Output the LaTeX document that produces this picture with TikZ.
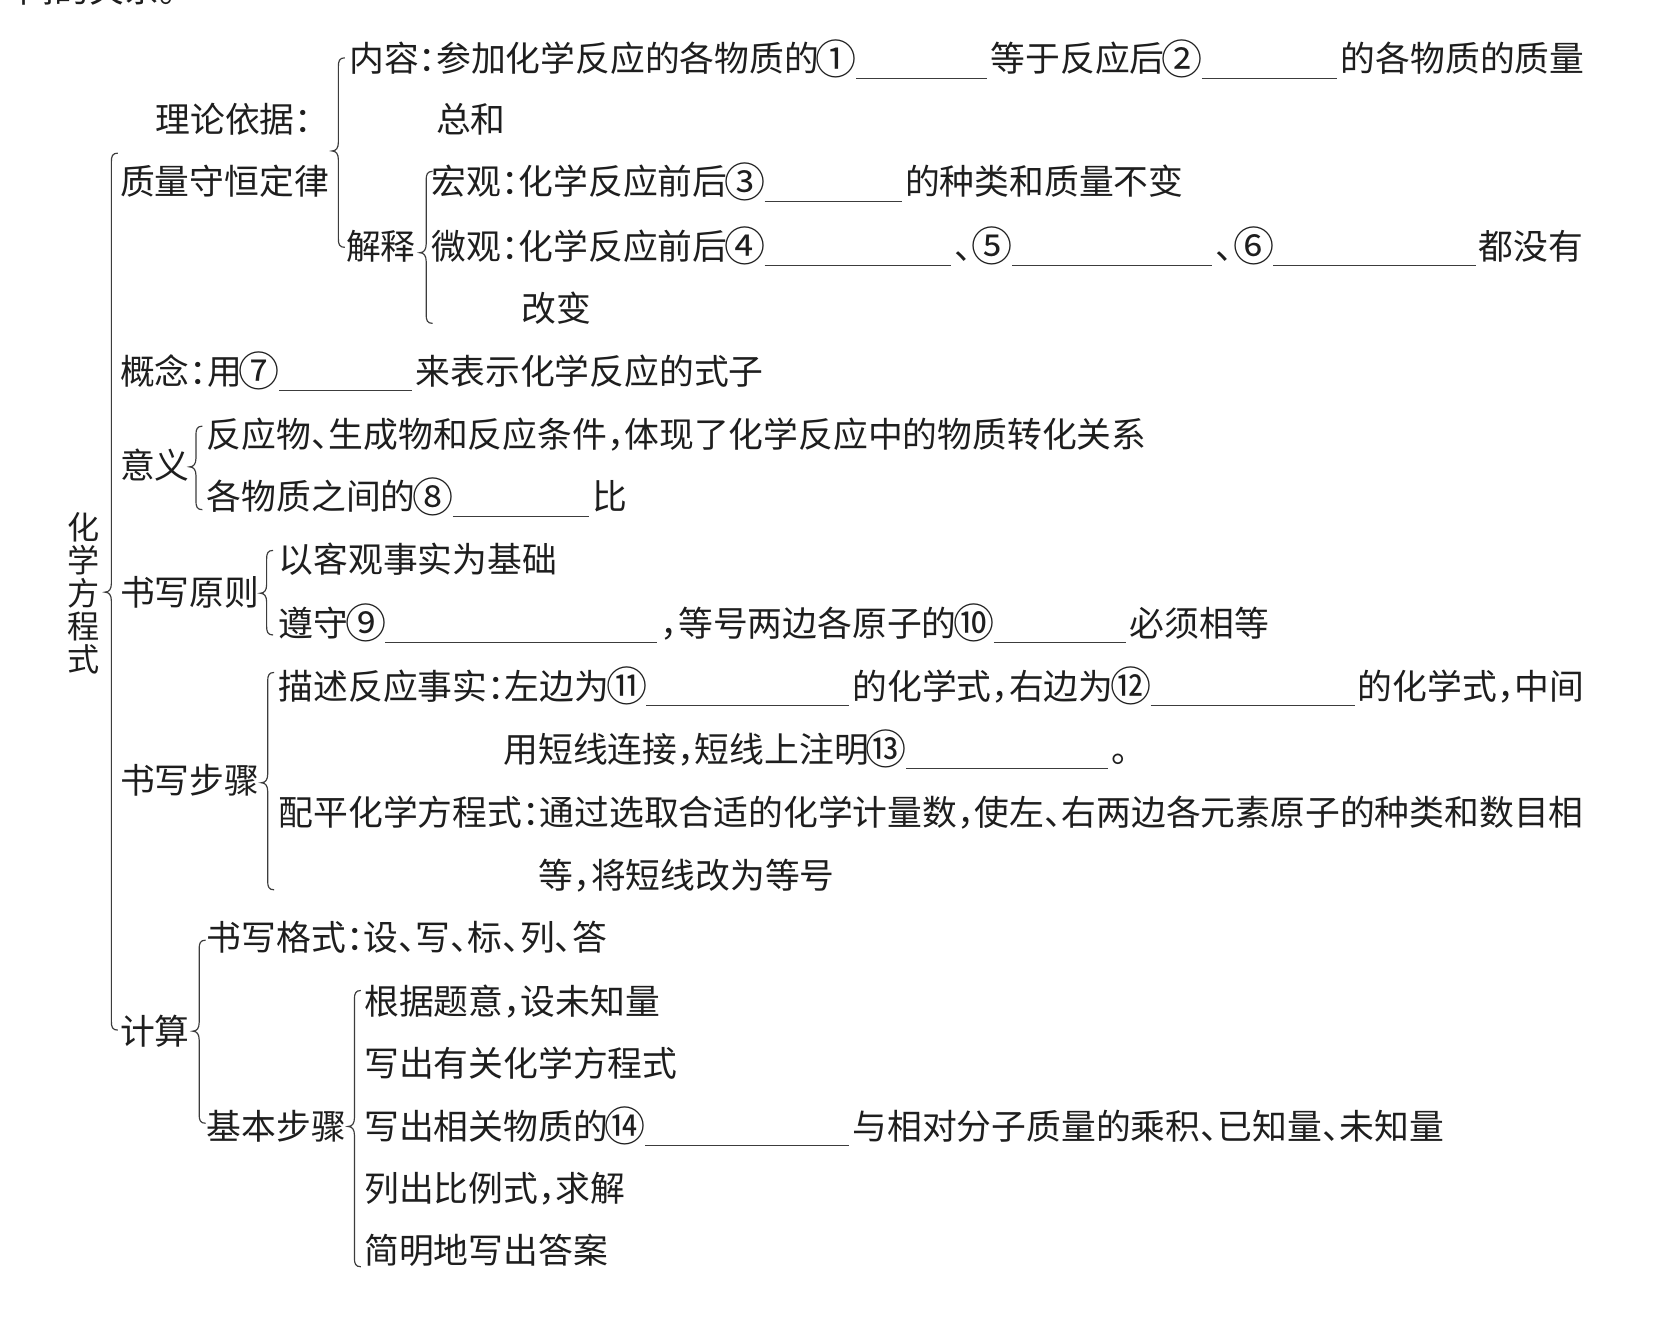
\documentclass[tikz,border=0pt]{standalone}
\usepackage{fontspec}
\setmainfont{Noto Sans CJK SC}[RawFeature=+halt]
\definecolor{ink}{HTML}{1E1E1E}
\definecolor{lin}{HTML}{3C3C3C}
\tikzset{
  txt/.style={anchor=base west, inner sep=0pt, text=ink, font=\fontsize{32.5}{39}\selectfont},
  uline/.style={draw=lin, line width=1pt},
  brc/.style={draw=lin, line width=1.1pt},
}
\newcommand\circn[1]{\makebox[1em]{\raisebox{-2.4pt}{\scalebox{1.18}{#1}}}}
\newcommand\mybrace[4]{\draw[brc] (#1+6,#2) .. controls (#1+1,#2) and (#1,#2+3) .. (#1,#2+8) -- (#1,#3-8) .. controls (#1,#3-3) and (#1-2,#3) .. (#1-6,#3) .. controls (#1-2,#3) and (#1,#3+3) .. (#1,#3+8) -- (#1,#4-8) .. controls (#1,#4-3) and (#1+1,#4) .. (#1+6,#4);}
\newcommand\ul[2]{\draw[uline] ([xshift=2pt,yshift=-6pt]#1.base east) -- ([xshift=-3pt,yshift=-6pt]#2.base west);}
\begin{document}
\begin{tikzpicture}[x=1pt,y=-1pt]
\fill[white] (0,0) rectangle (1568,1244);
\useasboundingbox (0,0) rectangle (1568,1244);
% cut-off heading line at top
\begin{scope}
\clip (0,0) rectangle (1568,1244);
\node[txt, anchor=base east] (top) at (165,2) {间的关系。};
\end{scope}
% vertical title
\node[inner sep=0pt, text=ink, align=center, font=\fontsize{30}{31}\selectfont] (title) at (78,554) {化\\学\\方\\程\\式};
% braces
\mybrace{104}{143}{553}{962}
\mybrace{316}{54}{141}{231}
\mybrace{398}{160}{236}{302}
\mybrace{183}{398}{436}{476}
\mybrace{249}{514}{554}{593}
\mybrace{250}{628}{731}{831}
\mybrace{186}{878}{963}{1049}
\mybrace{331}{925}{1052}{1183}
% rows
\node[txt] (a1) at (326,67) {内容：参加化学反应的各物质的\circn{①}};
\node[txt] (a2) at (925,67) {等于反应后\circn{②}};
\node[txt] (a3) at (1252,67) {的各物质的质量};
\ul{a1}{a2}\ul{a2}{a3}
\node[txt] (b1) at (145,124) {理论依据：};
\node[txt] (b2) at (407,124) {总和};
\node[txt] (c1) at (112,182) {质量守恒定律};
\node[txt] (c2) at (403,182) {宏观：化学反应前后\circn{③}};
\node[txt] (c3) at (845,182) {的种类和质量不变};
\ul{c2}{c3}
\node[txt] (d0) at (323,242) {解释};
\node[txt] (d1) at (403,242) {微观：化学反应前后\circn{④}};
\node[txt] (d2) at (891,242) {、\hspace{3pt}\circn{⑤}};
\node[txt] (d3) at (1135,242) {、\hspace{3pt}\circn{⑥}};
\node[txt] (d4) at (1381,242) {都没有};
\ul{d1}{d2}\ul{d2}{d3}\ul{d3}{d4}
\node[txt] (e1) at (487,300) {改变};
\node[txt] (f1) at (112,359) {概念：用\circn{⑦}};
\node[txt] (f2) at (388,359) {来表示化学反应的式子};
\ul{f1}{f2}
\node[txt] (g1) at (193,418) {反应物、生成物和反应条件，体现了化学反应中的物质转化关系};
\node[txt] (g0) at (112,447) {意义};
\node[txt] (h1) at (193,476) {各物质之间的\circn{⑧}};
\node[txt] (h2) at (553,476) {比};
\ul{h1}{h2}
\node[txt] (i1) at (260,535) {以客观事实为基础};
\node[txt] (i0) at (112,565) {书写原则};
\node[txt] (j1) at (260,594) {遵守\circn{⑨}};
\node[txt] (j2) at (617,594) {，等号两边各原子的\circn{⑩}};
\node[txt] (j3) at (1055,594) {必须相等};
\ul{j1}{j2}\ul{j2}{j3}
\node[txt] (k1) at (260,653) {描述反应事实：左边为\circn{⑪}};
\node[txt] (k2) at (796,653) {的化学式，右边为\circn{⑫}};
\node[txt] (k3) at (1268,653) {的化学式，中间};
\ul{k1}{k2}\ul{k2}{k3}
\node[txt] (l1) at (470,712) {用短线连接，短线上注明\circn{⑬}};
\node[txt] (l2) at (1038,712) {。};
\ul{l1}{l2}
\node[txt] (l0) at (112,741) {书写步骤};
\node[txt] (m1) at (260,771) {配平化学方程式：通过选取合适的化学计量数，使左、右两边各元素原子的种类和数目相};
\node[txt] (m2) at (503,830) {等，将短线改为等号};
\node[txt] (n1) at (193,888) {书写格式：设、写、标、列、答};
\node[txt] (o1) at (340,947) {根据题意，设未知量};
\node[txt] (n0) at (112,975) {计算};
\node[txt] (o2) at (340,1005) {写出有关化学方程式};
\node[txt] (p0) at (193,1064) {基本步骤};
\node[txt] (p1) at (340,1064) {写出相关物质的\circn{⑭}};
\node[txt] (p2) at (796,1064) {与相对分子质量的乘积、已知量、未知量};
\ul{p1}{p2}
\node[txt] (q1) at (340,1122) {列出比例式，求解};
\node[txt] (q2) at (340,1180) {简明地写出答案};
\end{tikzpicture}
\end{document}
